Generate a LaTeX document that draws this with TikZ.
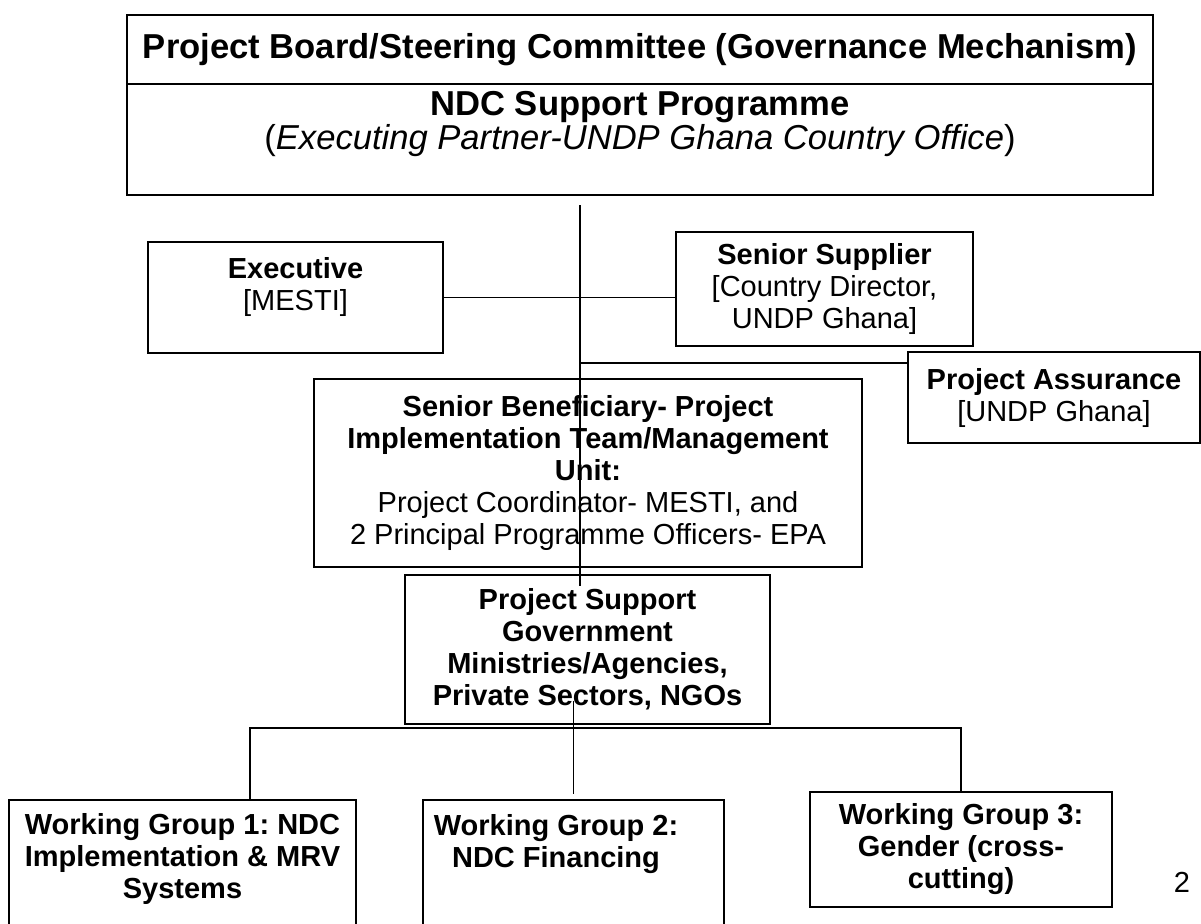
\documentclass[tikz,border=0pt]{standalone}
\usepackage{fontspec}
\setmainfont{Liberation Sans}
\usetikzlibrary{calc}

\begin{document}
\begin{tikzpicture}[x=0.5pt, y=-0.5pt,
  txt/.style={align=center, inner sep=0pt, font=\fontsize{14.5}{16}\selectfont\frenchspacing},
  bold/.style={font=\fontsize{14.5}{16}\selectfont\frenchspacing\bfseries},
  big/.style={font=\fontsize{17.3}{14.5}\selectfont\frenchspacing},
  box/.style={txt, draw, line width=1pt},
  link/.style={line width=0.8pt}]
\useasboundingbox (0,0) rectangle (1201,923);
\clip (0,0) rectangle (1201,923);
\node[box, big, minimum width=513pt, minimum height=34.5pt] (board) at (640,49.5) {\textbf{Project Board/Steering Committee (Governance Mechanism)}};
\node[box, minimum width=513pt, minimum height=55.5pt] (ndc) at (640,139.5) {};
\node[txt, big] (ndctext) at (640,124) {\textbf{NDC Support Programme}\\(\textit{Executing Partner-UNDP Ghana Country Office})};
\node[box, minimum width=147.5pt, minimum height=55.5pt] (exec) at (295.5,297.5) {};
\node[txt] (exectext) at (295.5,287) {\textbf{Executive}\\{[MESTI]}};
\node[box, minimum width=148.5pt, minimum height=57pt] (supplier) at (824.5,289) {\textbf{Senior Supplier}\\{[Country Director,}\\UNDP Ghana]};
\node[box, minimum width=146pt, minimum height=45.5pt] (assurance) at (1054,397.5) {\textbf{Project Assurance}\\{[UNDP Ghana]}};
\node[box, minimum width=274pt, minimum height=94pt] (benef) at (588,473) {\textbf{Senior Beneficiary- Project}\\\textbf{Implementation Team/Management}\\\textbf{Unit:}\\Project Coordinator- MESTI, and\\2 Principal Programme Officers- EPA};
\node[box, bold, minimum width=182.5pt, minimum height=74.5pt] (support) at (587.5,649.5) {Project Support\\Government\\Ministries/Agencies,\\Private Sectors, NGOs};
\node[box, minimum width=173.5pt, minimum height=70pt] (wgA) at (182.5,870) {};
\node[txt, bold] (wgAtext) at (182.5,859) {Working Group 1: NDC\\Implementation \& MRV\\Systems};
\node[box, minimum width=150.5pt, minimum height=70pt] (wgB) at (573.5,870) {};
\node[txt, bold] (wgBtext) at (556,844) {Working Group 2:\\NDC Financing};
\node[box, bold, minimum width=151pt, minimum height=57.5pt] (wgC) at (961,849) {Working Group 3:\\Gender (cross-\\cutting)};
\node[txt] (page) at (1182,882) {2};
\coordinate (spine) at (580,0);
\coordinate (tap) at (580,363);
\coordinate (bus) at (250,728);
\draw[link] ($(ndc.south -| spine)+(0,9)$) -- ($(support.north -| spine)+(0,12)$);
\draw[link] (exec.east) -- (exec.east -| supplier.west);
\draw[link] (tap) -- (tap -| assurance.west);
\draw[link] (bus |- wgA.north) -- (bus) -- (bus -| wgC.north) -- (wgC.north);
\draw[link] ($(support.south -| wgB.north)+(0,-24)$) -- ($(wgB.north)+(0,-5)$);
\end{tikzpicture}
\end{document}
